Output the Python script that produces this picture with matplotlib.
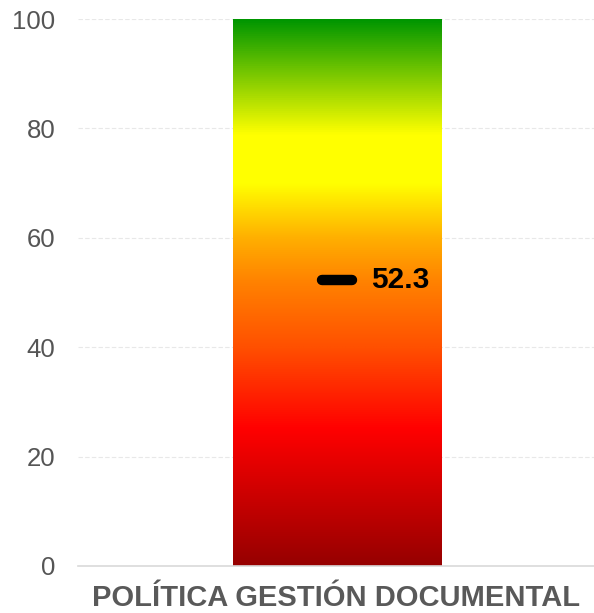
import numpy as np
import matplotlib.pyplot as plt
from matplotlib.colors import LinearSegmentedColormap

# indicator data
categories = ['POLÍTICA GESTIÓN DOCUMENTAL']
scores = [52.3]
scale_max = 100
y_ticks = [0, 20, 40, 60, 80, 100]

# traffic-light scale, bottom (0) to top (100)
stops = [0.0, 0.25, 0.40, 0.52, 0.60, 0.70, 0.79, 0.90, 1.0]
colors = ['#960000', '#ff0000', '#ff5000', '#ff8200', '#ffaf00',
          '#ffff00', '#ffff00', '#7ac800', '#009600']
cmap = LinearSegmentedColormap.from_list('semaforo', list(zip(stops, colors)))

plt.rcParams['font.family'] = ['Liberation Sans', 'DejaVu Sans']

fig = plt.figure(figsize=(5.94, 6.13), dpi=100)
ax = fig.add_axes([0.131, 0.0767, 0.869, 0.8923])

x = np.arange(len(categories))
bars = ax.bar(x + 0.003, [scale_max] * len(categories), width=0.403, color='none', zorder=2)

# fill each bar with the vertical gradient
grad = np.linspace(0, 1, 512).reshape(-1, 1)
for b in bars:
    x0, w = b.get_x(), b.get_width()
    im = ax.imshow(grad, cmap=cmap, origin='lower', aspect='auto',
                   extent=[x0, x0 + w, 0, scale_max], zorder=2,
                   interpolation='bilinear')
    im.set_clip_path(b)

# score marker and label
for xi, v in zip(x, scores):
    ax.plot([xi - 0.027, xi + 0.031], [v, v], color='black', lw=7.5,
            solid_capstyle='round', zorder=3)
    ax.text(xi + 0.068, v, f'{v:.1f}', ha='left', va='center',
            fontsize=21.5, fontweight='bold', color='black', zorder=4)

ax.set_xlim(-0.5, 0.5)
ax.set_ylim(0, scale_max)
ax.set_yticks(y_ticks)
ax.set_xticks(x)
ax.set_xticklabels(categories, fontsize=21, fontweight='bold', color='#595959')
ax.tick_params(axis='y', length=0, pad=16, labelsize=18.5, labelcolor='#555555')
ax.tick_params(axis='x', length=0, pad=13)

ax.yaxis.grid(True, color='#e8e8e8', linestyle=(0, (4, 2)), linewidth=0.8, zorder=0)
ax.set_axisbelow(True)
for s in ['top', 'right', 'left']:
    ax.spines[s].set_visible(False)
ax.spines['bottom'].set_color('#d9d9d9')
ax.spines['bottom'].set_linewidth(1.2)

fig.savefig('out.png', dpi=100)
